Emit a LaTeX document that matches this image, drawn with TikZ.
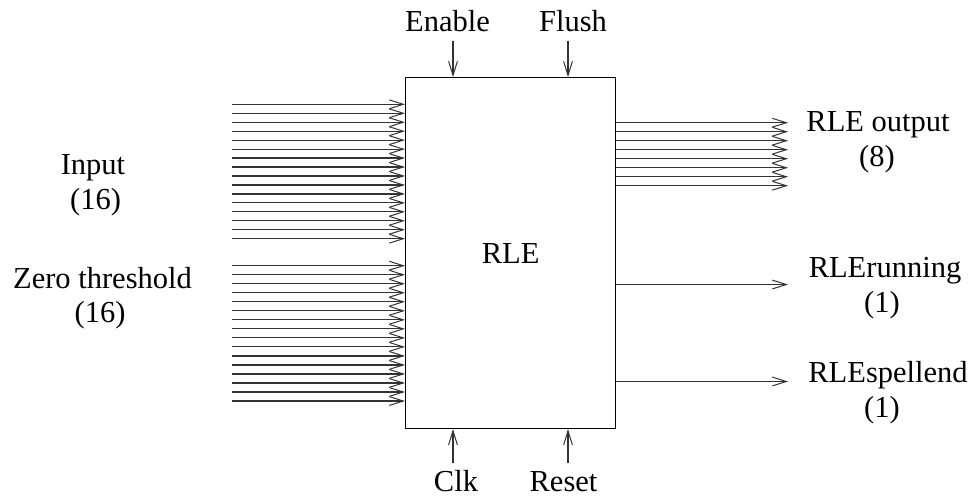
\documentclass[tikz,border=0pt]{standalone}
\usepackage{fontspec}
\setmainfont{Liberation Serif}
\usepackage{tikz}
\usetikzlibrary{arrows.meta,positioning,calc}

\begin{document}
\begin{tikzpicture}[x=0.5pt,y=-0.5pt,
  sig/.style={line width=0.6pt,gray!40!black,-{Straight Barb[length=7pt,width=4.4pt,line width=0.5pt]}},
  lbl/.style={anchor=base,inner sep=0pt,font=\fontsize{15.25}{18}\selectfont}]
 \useasboundingbox (0,0) rectangle (969,495);
 \node (rle) [draw,line width=0.6pt,anchor=north west,minimum width=105pt,minimum height=175.5pt,
   font=\fontsize{15.25}{18}\selectfont] at (405,77) {RLE};
 % inputs and zero threshold
 \foreach \i in {0,...,15}{
   \pgfmathsetmacro\y{104.3+8.96*\i}
   \pgfmathsetmacro\z{265.7+9.02*\i}
   \coordinate (in\i) at (232,\y);
   \coordinate (zt\i) at (232,\z);
   \draw[sig] (in\i) -- (in\i -| rle.west);
   \draw[sig] (zt\i) -- (zt\i -| rle.west);}
 % outputs
 \foreach \i in {0,...,7}{
   \pgfmathsetmacro\y{122.7+9*\i}
   \coordinate (out\i) at (788,\y);
   \draw[sig] (out\i -| rle.east) -- (out\i);}
 \coordinate (run) at (788,284.5);
 \coordinate (spell) at (788,381.5);
 \draw[sig] (run -| rle.east) -- (run);
 \draw[sig] (spell -| rle.east) -- (spell);
 % control signals
 \coordinate (enable) at (453,40.5);
 \coordinate (flush) at (568,40.5);
 \coordinate (clk) at (453,463);
 \coordinate (reset) at (568,463);
 \draw[sig] (enable) -- (enable |- rle.north);
 \draw[sig] (flush) -- (flush |- rle.north);
 \draw[sig] (clk) -- (clk |- rle.south);
 \draw[sig] (reset) -- (reset |- rle.south);
 % labels
 \node (tenable) [lbl] at (447.5,31) {Enable};
 \node (tflush) [lbl] at (573,31) {Flush};
 \node (tclk) [lbl] at (456,491) {Clk};
 \node (treset) [lbl] at (563.5,491) {Reset};
 \node (tin) [lbl] at (93,174) {Input};
 \node (tinw) [lbl] at (95.5,209) {(16)};
 \node (tzt) [lbl] at (102.5,288) {Zero threshold};
 \node (tztw) [lbl] at (100,322) {(16)};
 \node (tout) [lbl] at (878,131) {RLE output};
 \node (toutw) [lbl] at (877,166) {(8)};
 \node (trun) [lbl] at (885,277) {RLErunning};
 \node (trunw) [lbl] at (882,312) {(1)};
 \node (tspell) [lbl] at (888,382) {RLEspellend};
 \node (tspellw) [lbl] at (882,417) {(1)};
\end{tikzpicture}
\end{document}
